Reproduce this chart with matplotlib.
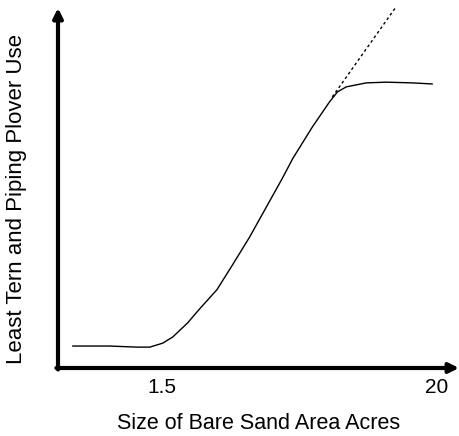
import numpy as np
import matplotlib.pyplot as plt

plt.rcParams['font.family'] = ['Liberation Sans', 'DejaVu Sans']

# use of bare sand by terns and plovers (relative units)
size_x = [3.7, 12.9, 19.7, 22.9, 26.1, 28.6, 32.3, 35.3, 39.6, 43.5, 47.8,
          56.0, 58.5, 63.4, 67.7, 69.7, 71.9, 76.9, 81.8, 88.3, 93.3]
use_y = [6.1, 6.1, 5.8, 5.8, 6.9, 8.6, 12.5, 16.4, 21.7, 28.6, 36.4,
         52.8, 58.1, 66.9, 73.9, 76.7, 78.1, 79.2, 79.4, 79.2, 78.9]
trend_x = [68.4, 84.1]
trend_y = [75.3, 100.0]
tick_pos = [25.9, 94.3]
tick_labels = ['1.5', '20']

fig = plt.figure(figsize=(4.59, 4.36), dpi=100)
ax = fig.add_axes([58 / 459, 68 / 436, 401 / 459, 360 / 436])
ax.set_xlim(0, 100)
ax.set_ylim(0, 100)
for s in ax.spines.values():
    s.set_visible(False)

ax.plot(size_x, use_y, color='black', lw=1.0)
ax.plot(trend_x, trend_y, color='black', lw=1.0, ls=(0, (2, 2)))

# axes drawn as arrows
ax.annotate('', xy=(0, 1.0), xytext=(0, -0.004), xycoords='axes fraction',
            arrowprops=dict(arrowstyle='-|>', lw=3, color='black',
                            mutation_scale=14, shrinkA=0, shrinkB=0))
ax.annotate('', xy=(1.0, 0), xytext=(-0.004, 0), xycoords='axes fraction',
            arrowprops=dict(arrowstyle='-|>', lw=3, color='black',
                            mutation_scale=14, shrinkA=0, shrinkB=0))

ax.set_xticks(tick_pos)
ax.set_xticklabels(tick_labels, fontsize=15)
ax.set_yticks([])
ax.tick_params(axis='x', length=0, pad=7)
ax.set_xlabel('Size of Bare Sand Area Acres', fontsize=15.5, labelpad=12)
ax.set_ylabel('Least Tern and Piping Plover Use', fontsize=16)
ax.yaxis.set_label_coords(-0.078, 0.47)

fig.savefig('out.png', dpi=100)
